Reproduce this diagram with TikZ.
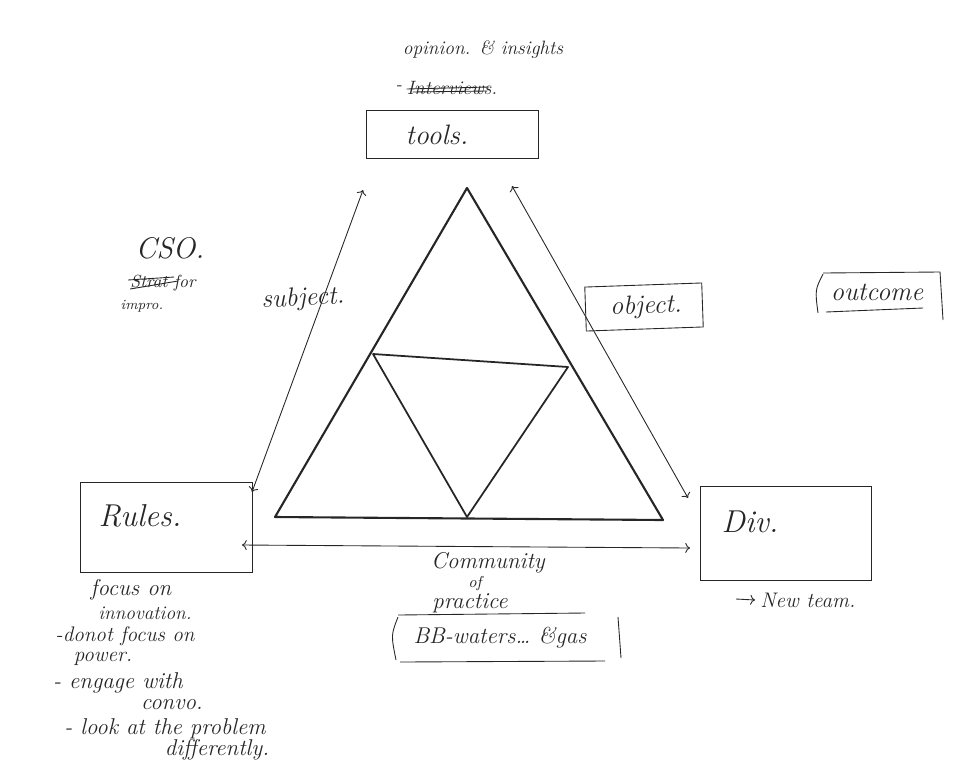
\documentclass[tikz,border=0pt]{standalone}
\usepackage{amsmath, amssymb}
\usepackage{tikz}
\usetikzlibrary{calc}
\usepackage{tkz-euclide}
\usepackage{xcolor}

\colorlet{ink}{black!85}
\tikzset{
  box/.style={draw=ink, line width=0.5pt, inner sep=0pt},
  hand/.style={text=ink, inner sep=0pt, font=\fontsize{#1}{#1}\selectfont\itshape},
  hand/.default=13,
  arr/.style={<->, draw=ink, line width=0.5pt},
  scribble/.style={draw=ink, line width=0.5pt},
}

\begin{document}
\begin{tikzpicture}[x=0.2mm, y=-0.2mm]
            \useasboundingbox (0,0) rectangle (953,776);
            % the two triangles
            \tkzDefPoints{467/188/A, 275/517/B, 663/520/C}
            \tkzDefPoints{373/354/D, 568/367/E, 467/517/F}
            \tkzDrawPolygon[draw=ink, line width=1.2pt](A,B,C)
            \tkzDrawPolygon[draw=ink, line width=1pt](D,E,F)
            % boxes
            \node[box, minimum width=34.4mm, minimum height=9.6mm] (tools) at (452,134) {};
            \node[box, minimum width=34.4mm, minimum height=18mm] (rules) at (166,527) {};
            \node[box, minimum width=34.2mm, minimum height=18.8mm] (div) at (786,533) {};
            \node[box, rotate=2, minimum width=23.4mm, minimum height=8.8mm] (object) at (644,307) {};
            \node[hand=16] (toolsT) at (437,135) {tools.};
            \node[hand=18] (rulesT) at (140,516) {Rules.};
            \node[hand=18] (divT) at (750,522) {Div.};
            \node[hand=15, rotate=2] (objectT) at (646,307) {object.};
            % arrows
            \tkzDefPoints{363/190/sT, 252/492/sR, 512/186/oT, 688/498/oD, 242/545/cR, 690/548/cD}
            \tkzDrawSegments[arr](sT,sR oT,oD cR,cD)
            % outcome bracket
            \node[hand=15] (outcome) at (877,292) {outcome};
            \draw[scribble] (823,273) -- (940,272) -- (943,320);
            \draw[scribble] (823,274) .. controls (815,290) .. (818,313);
            \draw[scribble] (826,312) -- (923,308);
            % labels
            \node[hand=15, rotate=3] (subject) at (303,299) {subject.};
            \node[hand=17] (cso) at (170,248) {CSO.};
            \node[hand=10] (strat) at (163,283) {Strat for};
            \draw[scribble] ($(strat.west)+(-2,-3)$) -- ($(strat.west)+(44,-6)$);
            \draw[scribble] ($(strat.west)+(0,6)$) -- ($(strat.west)+(48,-2)$);
            \node[hand=8] (impro) at (142,306) {impro.};
            \node[hand=11] (opinion) at (483,50) {opinion. \& insights};
            \node[hand=11] (intv) at (452,88) {Interviews.};
            \node[hand=11, anchor=east] (intvD) at ($(intv.west)+(-4,0)$) {-};
            \draw[scribble] ($(intv.west)+(0,1)$) -- ($(intv.east)+(-8,-1)$);
            \draw[scribble] ($(intv.west)+(6,4)$) -- ($(intv.east)+(-10,3)$);
            % community of practice
            \node[hand=13] (community) at (488,563) {Community};
            \node[hand=9] (of) at (475,584) {of};
            \node[hand=13] (practice) at (470,603) {practice};
            \node[hand=13] (bbwaters) at (500,638) {BB-waters\ldots\ \&gas};
            \draw[scribble] (398,615) -- (585,613);
            \draw[scribble] (398,617) .. controls (391,635) .. (396,660);
            \draw[scribble] (618,617) -- (621,658);
            \draw[scribble] (400,662) -- (605,661);
            % new team
            \coordinate (ntStart) at (736,599);
            \node[hand=12, anchor=west] (newteam) at (760,600) {New team.};
            \draw[->, scribble] (ntStart) -- ($(newteam.west)+(-5,0)$);
            % notes under Rules
            \node[hand=13] (n1) at (131,590) {focus on};
            \node[hand=11] (n2) at (145,613) {innovation.};
            \node[hand=12] (n3) at (125,636) {-donot focus on};
            \node[hand=12] (n4) at (103,659) {power.};
            \node[hand=13] (n5) at (118,683) {- engage with};
            \node[hand=13] (n6) at (172,705) {convo.};
            \node[hand=13] (n7) at (165,729) {- look at the problem};
            \node[hand=13] (n8) at (217,750) {differently.};
\end{tikzpicture}
\end{document}
